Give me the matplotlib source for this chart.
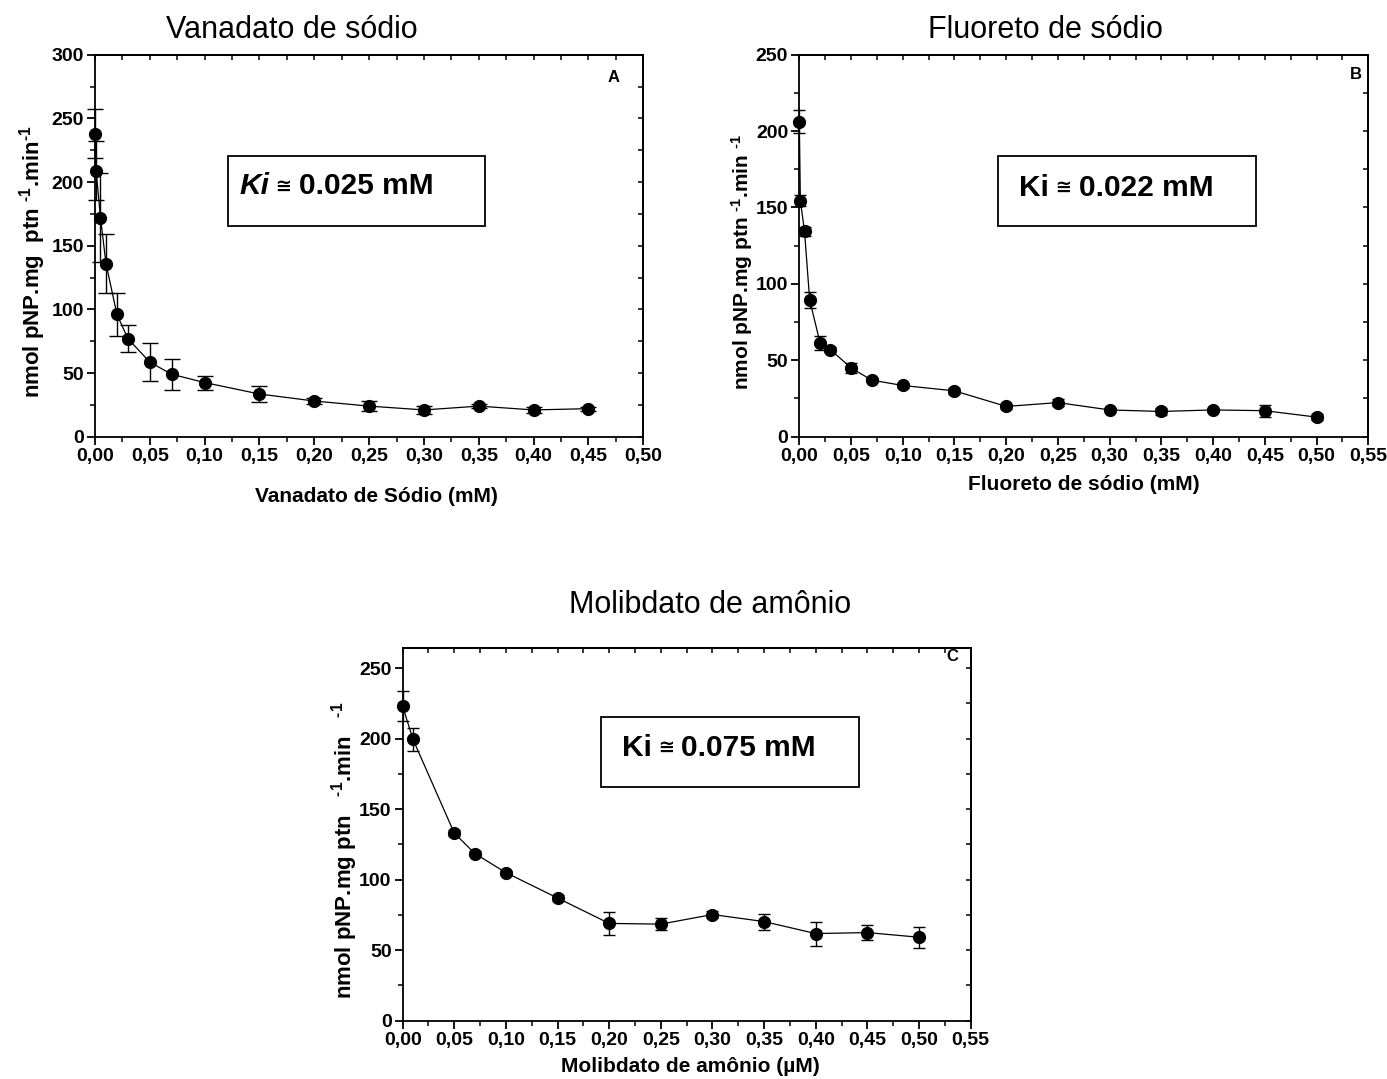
import matplotlib
matplotlib.use("Agg")
import matplotlib.pyplot as plt
from matplotlib.ticker import MultipleLocator, FuncFormatter
from matplotlib.patches import Rectangle

plt.rcParams['font.family'] = ['Liberation Sans', 'DejaVu Sans']
plt.rcParams['mathtext.fontset'] = 'custom'
plt.rcParams['mathtext.rm'] = 'Liberation Sans:bold'
plt.rcParams['mathtext.bf'] = 'Liberation Sans:bold'
plt.rcParams['mathtext.default'] = 'rm'

# ---- Data ----
xa = [0.0, 0.001, 0.005, 0.01, 0.02, 0.03, 0.05, 0.07, 0.10, 0.15, 0.20, 0.25, 0.30, 0.35, 0.40, 0.45]
ya = [238, 209, 172, 136, 96, 77, 58.5, 49, 42.5, 33.5, 28, 24, 21, 24, 21, 22]
ea = [19, 23, 35, 23, 17, 10.5, 15, 12, 5.5, 6, 2, 4, 3, 1.5, 2.5, 1.5]

xb = [0.0, 0.001, 0.005, 0.01, 0.02, 0.03, 0.05, 0.07, 0.10, 0.15, 0.20, 0.25, 0.30, 0.35, 0.40, 0.45, 0.50]
yb = [206, 154.5, 134.5, 89.5, 61.5, 57, 45, 37, 33.5, 30, 19.8, 22.3, 17.5, 16.5, 17.5, 17, 12.8]
eb = [7.5, 3.5, 3, 5, 4.5, 1.5, 3, 1.5, 1.5, 2, 1.5, 2.5, 1, 2.5, 1.5, 4, 2]

xc = [0.0, 0.01, 0.05, 0.07, 0.10, 0.15, 0.20, 0.25, 0.30, 0.35, 0.40, 0.45, 0.50]
yc = [223, 199.5, 133, 118.5, 105, 87, 69, 68.5, 75.3, 70.3, 61.8, 62.5, 59.2]
ec = [10.5, 8, 2, 2, 1.5, 2, 8, 4, 2.5, 5.7, 8.5, 5.4, 7.5]

titles = ["Vanadato de sódio", "Fluoreto de sódio", "Molibdato de amônio"]
xlabels = ["Vanadato de Sódio (mM)", "Fluoreto de sódio (mM)", "Molibdato de amônio (\u00b5M)"]
ylabels = [r"nmol pNP.mg  ptn $^{\text{-1}}$.min$^{\text{-1}}$",
           r"nmol pNP.mg ptn $^{\text{-1}}$.min $^{\text{-1}}$",
           r"nmol pNP.mg ptn   $^{\text{-1}}$.min   $^{\text{-1}}$"]
ki_values = ["0.025 mM", "0.022 mM", "0.075 mM"]
letters = ["A", "B", "C"]

fig = plt.figure(figsize=(13.87, 10.79), dpi=100)

axA = fig.add_axes([0.0685, 0.5953, 0.3953, 0.3540])
axB = fig.add_axes([0.5763, 0.5953, 0.4102, 0.3540])
axC = fig.add_axes([0.2903, 0.0540, 0.4095, 0.3451])

comma = FuncFormatter(lambda v, p: f"{v:.2f}".replace(".", ","))

def style(ax, xmax, ymax, ystep=50):
    ax.set_xlim(0, xmax)
    ax.set_ylim(0, ymax)
    ax.xaxis.set_major_locator(MultipleLocator(0.05))
    ax.xaxis.set_minor_locator(MultipleLocator(0.025))
    ax.yaxis.set_major_locator(MultipleLocator(ystep))
    ax.yaxis.set_minor_locator(MultipleLocator(ystep / 2))
    ax.xaxis.set_major_formatter(comma)
    for s in ax.spines.values():
        s.set_linewidth(1.3)
    ax.tick_params(which='major', direction='out', length=6, width=1.3,
                   labelsize=14, pad=2)
    ax.tick_params(which='minor', direction='out', length=3.5, width=1.1)
    for lab in ax.get_xticklabels() + ax.get_yticklabels():
        lab.set_fontweight('bold')
    top = ax.secondary_xaxis('top')
    top.xaxis.set_major_locator(MultipleLocator(0.025))
    top.tick_params(direction='in', length=3.5, width=1.1, labeltop=False)
    top.spines['top'].set_linewidth(1.3)
    right = ax.secondary_yaxis('right')
    right.yaxis.set_major_locator(MultipleLocator(ystep / 2))
    right.tick_params(direction='in', length=3.5, width=1.1, labelright=False)
    right.spines['right'].set_linewidth(1.3)

def plot(ax, x, y, e, cap):
    ax.errorbar(x, y, yerr=e, fmt='o-', color='black', ms=8.5, lw=0.9,
                elinewidth=1.0, capsize=cap, capthick=1.0, clip_on=False, zorder=3)

def ki_box(ax, box):
    ax.add_patch(Rectangle((box[0], box[1]), box[2] - box[0], box[3] - box[1],
                           transform=ax.transAxes, fill=False, lw=1.3,
                           edgecolor='black', zorder=4))

plot(axA, xa, ya, ea, 6)
plot(axB, xb, yb, eb, 4.5)
plot(axC, xc, yc, ec, 4.5)
style(axA, 0.50, 300)
style(axB, 0.55, 250)
style(axC, 0.55, 264)

# Ki boxes
boxes = [(0.2426, 0.5516, 0.7107, 0.7348), (0.3497, 0.5516, 0.8027, 0.7348), (0.349, 0.6267, 0.8028, 0.8163)]
textpos = [(0.2626, 0.655), (0.386, 0.652), (0.3856, 0.733)]
for i, ax in enumerate([axA, axB, axC]):
    ki_box(ax, boxes[i])
    t1 = ax.text(textpos[i][0], textpos[i][1], "Ki", transform=ax.transAxes,
                 fontsize=21.5, fontweight='bold',
                 fontstyle='italic' if i == 0 else 'normal', va='center', ha='left')
    t2 = ax.annotate(" \u2245 ", xy=(1, 0.5), xycoords=t1, va='center', ha='left',
                     fontsize=14, fontweight='bold', family=['DejaVu Sans'])
    ax.annotate(ki_values[i], xy=(1, 0.5), xycoords=t2, va='center', ha='left',
                fontsize=21.5, fontweight='bold')

letterpos = [(0.9466, 0.941), (0.978, 0.947), (0.9676, 0.977)]
for i, ax in enumerate([axA, axB, axC]):
    ax.text(*letterpos[i], letters[i], transform=ax.transAxes, fontsize=12,
            fontweight='bold', ha='center', va='center')

# Titles
fig.text(292 / 1387, 1 - 30 / 1079, titles[0], fontsize=22, ha='center', va='center')
fig.text(1045 / 1387, 1 - 30 / 1079, titles[1], fontsize=22, ha='center', va='center')
fig.text(710 / 1387, 1 - 605 / 1079, titles[2], fontsize=22, ha='center', va='center')

# Axis labels
fig.text(376 / 1387, 1 - 497 / 1079, xlabels[0], fontsize=15, fontweight='bold', ha='center', va='center')
fig.text(1084 / 1387, 1 - 485 / 1079, xlabels[1], fontsize=15, fontweight='bold', ha='center', va='center')
fig.text(690 / 1387, 1 - 1066 / 1079, xlabels[2], fontsize=15, fontweight='bold', ha='center', va='center')

fig.text(33 / 1387, 1 - 262 / 1079, ylabels[0], fontsize=16, fontweight='bold', rotation=90, ha='center', va='center')
fig.text(742 / 1387, 1 - 262 / 1079, ylabels[1], fontsize=15, fontweight='bold', rotation=90, ha='center', va='center')
fig.text(345 / 1387, 1 - 850 / 1079, ylabels[2], fontsize=16, fontweight='bold', rotation=90, ha='center', va='center')

fig.savefig("out.png", dpi=100)
